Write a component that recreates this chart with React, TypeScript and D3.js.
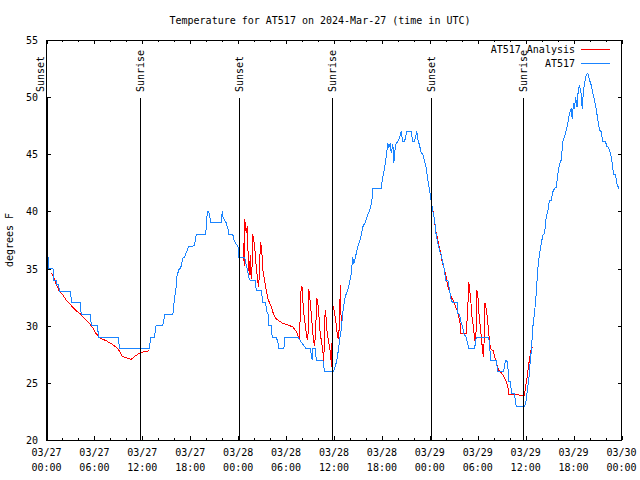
import React from "react";
import * as d3 from "d3";

// Hours since 03/27 00:00 UTC, temperature (degrees F)
const obsHours = [
  0.0, 0.2, 0.3, 0.81, 0.88, 1.19, 1.29, 1.5, 1.63, 3.01, 3.13, 4.22, 4.35, 5.47, 5.63, 6.39, 6.51, 8.98, 9.14,
  12.9, 13.02, 13.52, 13.71, 14.56, 14.81, 15.82, 16.03, 16.24, 16.32, 16.57, 16.82, 17.07, 17.28, 17.78,
  18.53, 18.75, 19.91, 20.07, 20.12, 20.32, 20.45, 20.57, 21.88, 22.0, 22.1, 22.5, 22.75, 22.83, 23.33,
  23.42, 23.67, 23.95, 24.08, 24.1, 24.79, 25.13, 25.33, 25.51, 26.13, 26.26, 26.89, 27.09, 27.42, 27.59,
  27.84, 27.86, 28.14, 28.26, 28.76, 28.96, 29.09, 29.72, 29.84, 31.47, 31.68, 32.06, 32.52, 33.06, 33.15,
  33.27, 33.35, 33.68, 33.77, 34.6, 34.81, 35.94, 36.19, 36.35, 36.56, 36.69, 36.9, 37.1, 37.32, 37.53,
  37.73, 37.94, 38.16, 38.28, 38.35, 38.48, 38.78, 38.98, 39.19, 39.41, 39.61, 39.95, 40.23, 40.45, 40.73,
  40.86, 41.91, 42.04, 42.2, 42.36, 42.54, 42.74, 42.87, 43.04, 43.17, 43.37, 43.49, 43.62, 43.79, 43.99,
  44.2, 44.41, 44.62, 44.83, 45.12, 45.67, 45.87, 46.08, 46.37, 46.49, 46.71, 46.92, 47.12, 47.33, 47.55,
  47.75, 47.96, 48.17, 48.37, 48.59, 48.71, 48.8, 49.0, 49.21, 49.43, 49.63, 49.84, 49.96, 50.25, 50.46,
  50.68, 50.88, 51.43, 51.5, 51.71, 51.93, 52.09, 52.26, 52.56, 52.88, 53.6, 53.81, 55.35, 55.48, 55.6,
  56.31, 56.51, 57.23, 57.44, 57.56, 57.72, 57.81, 57.88, 58.1, 58.22, 58.59, 58.82, 59.86, 60.07, 60.27,
  60.48, 60.61, 60.69, 60.9, 61.11, 61.32, 61.52, 61.73, 61.95, 62.15, 62.36, 62.58, 62.77, 62.99, 63.2,
  63.4, 63.61, 63.82, 64.03, 64.24, 64.45, 64.58, 64.65, 64.86, 65.08, 65.28, 65.49, 65.7, 65.83, 65.99,
  66.12, 66.24, 66.37, 66.45, 66.58, 66.74, 66.95, 67.08, 67.24, 67.41, 67.58, 67.79, 68.0, 68.21, 68.41,
  68.62, 68.83, 69.03, 69.25, 69.46, 69.66, 70.0, 70.16, 70.37, 70.62, 70.84, 71.0, 71.25, 71.41, 71.54,
  71.69,
];
const obsTemps = [
  36.0, 36.0, 35.0, 35.0, 34.0, 34.0, 33.6, 33.6, 33.0, 33.0, 32.0, 32.0, 31.0, 31.0, 30.0, 30.0, 29.0, 29.0, 28.0,
  28.0, 29.0, 29.0, 30.0, 30.0, 31.0, 31.0, 32.4, 33.4, 34.3, 34.9, 35.1, 35.9, 36.0, 36.9,
  37.0, 38.0, 38.0, 39.0, 40.0, 40.0, 39.5, 39.0, 39.0, 40.0, 39.5, 39.0, 38.4, 38.0, 38.0,
  37.6, 37.2, 37.0, 36.6, 36.0, 36.0, 35.0, 34.2, 34.0, 34.0, 33.1, 33.1, 32.0, 32.0, 31.2,
  30.9, 30.0, 30.0, 29.0, 29.0, 28.6, 28.0, 28.0, 29.0, 29.0, 28.8, 28.4, 28.0, 28.0, 27.4,
  27.0, 28.0, 28.0, 27.0, 27.0, 26.0, 26.0, 26.5, 27.0, 27.9, 28.75, 29.6, 31.1, 32.25, 32.8,
  33.1, 33.7, 34.6, 35.5, 36.0, 35.4, 36.3, 36.9, 37.35, 37.9, 38.66, 39.1, 39.7, 40.06, 40.85,
  42.0, 42.0, 42.75, 43.3, 43.9, 44.8, 45.95, 45.6, 45.95, 45.1, 45.9, 44.2, 45.3, 46.0, 46.1,
  46.4, 47.0, 46.1, 46.1, 47.0, 47.0, 46.1, 46.1, 47.0, 46.3, 45.8, 45.1, 45.0, 44.4, 43.8,
  42.75, 41.9, 40.85, 40.1, 39.25, 38.5, 37.9, 37.2, 36.6, 36.2, 35.5, 34.9, 34.0, 34.0, 33.1,
  32.25, 32.0, 32.0, 31.1, 31.0, 30.2, 30.0, 29.3, 29.0, 28.0, 28.0, 29.0, 29.0, 28.5, 27.0,
  27.0, 26.0, 26.0, 26.85, 27.0, 26.8, 26.0, 25.1, 25.1, 24.1, 24.1, 22.9, 22.9, 23.5, 24.7,
  25.8, 27.5, 27.6, 29.9, 31.1, 32.8, 35.0, 36.3, 37.2, 37.9, 38.1, 39.5, 40.0, 41.0, 41.0,
  41.7, 42.0, 42.1, 43.3, 44.1, 44.5, 45.5, 46.1, 46.5, 47.1, 47.7, 48.6, 49.0, 48.1, 49.5,
  49.0, 50.05, 49.4, 49.1, 50.6, 51.05, 50.3, 49.0, 50.6, 51.35, 51.9, 52.1, 51.5, 51.05, 50.3,
  49.75, 49.0, 48.0, 47.1, 47.0, 46.1, 46.1, 45.7, 45.6, 45.1, 44.2, 43.2, 43.2, 42.45, 42.2,
  42.0,
];

// Analysis series; NaN marks a gap between analysis periods
const anaHours = [
  0.66, 1.0, 1.21, 1.42, 1.63, 2.04, 2.47, 2.88, 3.29, 3.72, 4.13, 4.55, 4.97, 5.38, 5.8, 6.22, 6.64, 7.05,
  7.48, 7.89, 8.3, 8.73, 9.14, 9.48, 9.98, 10.61, 11.02, 11.43, 12.06, 12.81,
  NaN,
  24.61, 24.71, 24.74, 24.83, 25.01, 25.13, 25.3, 25.42, 25.51, 25.63, 25.73, 25.83, 25.96, 26.13, 26.26,
  26.46, 26.58, 26.67, 26.8, 26.96, 27.09, 27.3, 27.51, 27.71, 27.92, 28.14, 28.34, 28.55, 28.76, 29.18,
  29.59, 30.22, 30.84, 31.27, 31.56, 31.68, 31.77, 31.89, 32.02, 32.1, 32.22, 32.43, 32.65, 32.75, 32.85,
  32.93, 33.06, 33.22, 33.43, 33.56, 33.68, 33.85, 33.97, 34.1, 34.27, 34.47, 34.68, 34.72, 34.81, 34.9,
  35.02, 35.15, 35.35, 35.56, 35.69, 35.77, 35.85, 35.98, 36.19, 36.35, 36.48, 36.6, 36.69, 36.82, 36.9,
  NaN,
  48.21, 48.46, 48.8, 49.0, 49.12, 49.3, 49.55, 49.84, 50.05, 50.25, 50.46, 50.68, 50.88, 51.09, 51.3,
  51.5, 51.71, 51.88, 51.9, 52.56, 52.76, 52.88, 53.01, 53.19, 53.31, 53.48, 53.6, 53.77, 53.89, 54.02,
  54.15, 54.31, 54.48, 54.64, 54.73, 54.81, 54.89, 54.98, 55.14, 55.27, 55.39, 55.48, 55.69, 55.98, 56.1,
  56.31, 56.51, 56.73, 56.94, 57.14, 57.35, 57.56, 57.76, 57.88, 59.86, 59.99, 60.15, 60.27, 60.48, 60.61,
  60.69, 60.9,
];
const anaTemps = [
  34.6, 34.1, 33.6, 33.3, 33.0, 32.7, 32.25, 31.96, 31.6, 31.3, 31.1, 30.8, 30.5, 30.2, 29.8, 29.3, 28.96, 28.8,
  28.7, 28.5, 28.35, 28.1, 27.8, 27.3, 27.2, 27.06, 27.3, 27.5, 27.7, 27.8,
  NaN,
  36.0, 37.2, 35.2, 39.3, 38.1, 38.7, 35.2, 34.4, 36.2, 34.1, 35.0, 38.0, 37.5, 36.4, 35.2,
  33.85, 33.4, 35.2, 37.35, 36.5, 34.9, 34.0, 33.1, 32.4, 32.0, 31.7, 31.2, 30.85, 30.6, 30.4,
  30.2, 30.06, 29.9, 29.5, 29.0, 28.75, 30.9, 33.5, 33.3, 32.2, 31.1, 29.9, 28.75, 29.3, 33.2,
  32.7, 31.8, 30.5, 28.75, 28.2, 29.3, 32.4, 32.0, 31.0, 29.3, 28.5, 27.3, 26.7, 29.6, 31.4,
  30.6, 29.3, 28.5, 27.6, 26.4, 29.2, 31.8, 31.5, 30.6, 29.6, 29.0, 28.9, 31.1, 33.6, 30.0,
  NaN,
  40.6, 39.8, 38.1, 37.5, 37.0, 36.6, 35.6, 34.9, 34.3, 33.4, 33.0, 32.5, 32.25, 31.96, 31.5,
  31.2, 30.5, 29.9, 29.3, 29.3, 31.7, 33.85, 33.0, 31.7, 30.5, 29.9, 28.75, 29.0, 33.1, 32.6,
  31.1, 30.0, 28.75, 27.6, 27.3, 29.0, 32.0, 31.8, 31.1, 30.2, 29.3, 28.5, 27.9, 27.8, 27.3,
  26.85, 26.3, 26.0, 25.9, 25.7, 25.4, 25.1, 24.7, 24.0, 23.9, 24.7, 25.3, 26.0, 27.1, 27.6,
  28.0, 28.1,
];

const sunLabels = ["Sunset", "Sunrise", "Sunset", "Sunrise", "Sunset", "Sunrise"];
const sunHours = [0.1, 11.7, 24.07, 35.72, 48.15, 59.68];

const xTickHours = [0, 6, 12, 18, 24, 30, 36, 42, 48, 54, 60, 66, 72];
const xTickDates = ["03/27", "03/27", "03/27", "03/27", "03/28", "03/28", "03/28", "03/28", "03/29", "03/29", "03/29", "03/29", "03/30"];
const xTickTimes = ["00:00", "06:00", "12:00", "18:00", "00:00", "06:00", "12:00", "18:00", "00:00", "06:00", "12:00", "18:00", "00:00"];
const yTicks = [20, 25, 30, 35, 40, 45, 50, 55];

const seriesNames = ["AT517 Analysis", "AT517"];
const seriesColors = ["#ff0000", "#1a84ff"];

const FONT = "'DejaVu Sans Mono', monospace";

export default function App() {
  const W = 640;
  const H = 480;
  const x = d3.scaleLinear().domain([0, 72]).range([46.5, 621.5]);
  const y = d3.scaleLinear().domain([20, 55]).range([440, 40]);
  const top = y(55);
  const bottom = y(20);
  const left = x(0);
  const right = x(72);

  const obs = obsHours.map((h, i) => [h, obsTemps[i]] as [number, number]);
  const ana = anaHours.map((h, i) => [h, anaTemps[i]] as [number, number]);
  const line = d3
    .line<[number, number]>()
    .defined((d) => !isNaN(d[0]) && !isNaN(d[1]))
    .x((d) => x(d[0]))
    .y((d) => y(d[1]));

  const minorX = d3.range(0, 72.01, 2);

  return (
    <svg width={W} height={H} style={{ position: "absolute", left: 0, top: 0, background: "#fff" }} fontFamily={FONT} fontSize={10}>
      <rect x={0} y={0} width={W} height={H} fill="#fff" />
      <text x={320} y={24} textAnchor="middle" fill="#000">
        Temperature for AT517 on 2024-Mar-27 (time in UTC)
      </text>

      {/* ticks */}
      <g stroke="#000" strokeWidth={1} shapeRendering="crispEdges">
        {minorX.map((h) => {
          const len = h % 6 === 0 ? 4 : 2;
          const xx = Math.round(x(h)) + 0.5;
          return (
            <g key={"xt" + h}>
              <line x1={xx} x2={xx} y1={bottom} y2={bottom - len} />
              <line x1={xx} x2={xx} y1={top} y2={top + len} />
            </g>
          );
        })}
        {yTicks.map((t) => {
          const yy = Math.round(y(t)) + 0.5;
          return (
            <g key={"yt" + t}>
              <line x1={left} x2={left + 4} y1={yy} y2={yy} />
              <line x1={right} x2={right - 4} y1={yy} y2={yy} />
            </g>
          );
        })}
      </g>

      {/* tick labels */}
      {xTickHours.map((h, i) => (
        <g key={"xl" + h}>
          <text x={x(h)} y={456} textAnchor="middle" fill="#000">
            {xTickDates[i]}
          </text>
          <text x={x(h)} y={471} textAnchor="middle" fill="#000">
            {xTickTimes[i]}
          </text>
        </g>
      ))}
      {yTicks.map((t) => (
        <text key={"yl" + t} x={38} y={y(t) + 4} textAnchor="end" fill="#000">
          {t}
        </text>
      ))}
      <text transform={`translate(13,${(top + bottom) / 2}) rotate(-90)`} textAnchor="middle" fill="#000">
        degrees F
      </text>

      {/* data */}
      <path d={line(ana) || ""} fill="none" stroke={seriesColors[0]} strokeWidth={1} shapeRendering="crispEdges" />
      <path d={line(obs) || ""} fill="none" stroke={seriesColors[1]} strokeWidth={1} shapeRendering="crispEdges" />

      {/* sunrise / sunset markers */}
      {sunHours.map((h, i) => {
        const xx = Math.round(x(h)) + 0.5;
        const lx = h < 1 ? xx - 7 : xx;
        return (
          <g key={"sun" + i}>
            <line x1={xx} x2={xx} y1={98} y2={bottom} stroke="#000" strokeWidth={1} shapeRendering="crispEdges" />
            <text transform={`translate(${lx + 3.5},92) rotate(-90)`} textAnchor="start" fill="#000">
              {sunLabels[i]}
            </text>
          </g>
        );
      })}

      {/* border */}
      <rect x={left} y={top + 0.5} width={right - left} height={bottom - top - 0.5} fill="none" stroke="#000" strokeWidth={1} shapeRendering="crispEdges" />

      {/* legend */}
      {seriesNames.map((n, i) => (
        <g key={"lg" + i}>
          <text x={575} y={53 + i * 14} textAnchor="end" fill="#000">
            {n}
          </text>
          <line x1={581} x2={610} y1={49.5 + i * 14} y2={49.5 + i * 14} stroke={seriesColors[i]} strokeWidth={1} shapeRendering="crispEdges" />
        </g>
      ))}
    </svg>
  );
}
